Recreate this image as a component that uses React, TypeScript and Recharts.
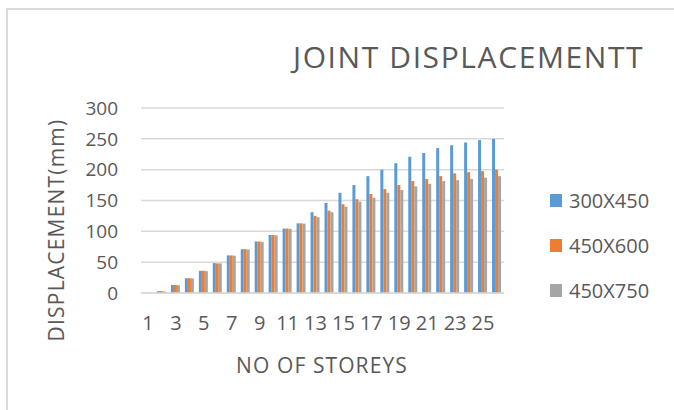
import { BarChart, Bar, XAxis, YAxis, CartesianGrid } from 'recharts';

const storeys = [
  '1', '2', '3', '4', '5', '6', '7', '8', '9', '10', '11', '12', '13',
  '14', '15', '16', '17', '18', '19', '20', '21', '22', '23', '24', '25', '26',
];

const s300x450 = [
  0, 3, 13, 24, 36, 48.5, 61, 71, 83.5, 94, 104.5, 113, 131,
  146, 162.6, 175, 189.5, 200, 210.5, 221, 227, 235, 239.6, 244, 248, 250,
];
const s450x600 = [
  0, 3, 13, 24, 36, 48, 61, 71, 83.5, 94, 104.5, 113, 125,
  133.5, 144, 152, 160.5, 168.5, 175, 181.5, 185, 189.5, 194, 196, 197.6, 200,
];
const s450x750 = [
  0, 2.5, 12.5, 23.5, 35.5, 48, 60.5, 70.5, 83, 93.5, 104, 112.5, 123,
  131, 140, 148, 154.5, 162.6, 167, 173, 177, 181.5, 183, 185, 187, 189.5,
];

const yTicks = [0, 50, 100, 150, 200, 250, 300];

const SERIES = [
  { key: '300X450', color: '#5B9BD5', values: s300x450 },
  { key: '450X600', color: '#ED7D31', values: s450x600 },
  { key: '450X750', color: '#A5A5A5', values: s450x750 },
];

const data = storeys.map((name, i) => {
  const row: Record<string, string | number> = { name };
  SERIES.forEach((s) => {
    row[s.key] = s.values[i];
  });
  return row;
});

const FONT = '"Open Sans", sans-serif';
const TEXT = '#595959';

export default function App() {
  return (
    <div
      style={{
        position: 'fixed',
        left: 0,
        top: 0,
        width: 674,
        height: 410,
        overflow: 'hidden',
        background: '#fff',
        fontFamily: FONT,
      }}
    >
      <BarChart
        width={674}
        height={410}
        data={data}
        margin={{ top: 108, right: 170, bottom: 0, left: 0 }}
        barGap={0}
        barSize={3}
      >
        <CartesianGrid vertical={false} stroke="#D9D9D9" strokeWidth={1.5} />
        <XAxis
          dataKey="name"
          interval={1}
          height={117}
          axisLine={{ stroke: '#D9D9D9', strokeWidth: 1.5 }}
          tickLine={false}
          tickSize={0}
          tickMargin={23}
          tick={{ fill: TEXT, fontSize: 20, fontFamily: FONT }}
        />
        <YAxis
          domain={[0, 300]}
          ticks={yTicks}
          width={141}
          axisLine={false}
          tickLine={false}
          tickSize={0}
          tickMargin={23}
          tick={{ fill: TEXT, fontSize: 19, fontFamily: FONT }}
        />
        {SERIES.map((s) => (
          <Bar key={s.key} dataKey={s.key} fill={s.color} isAnimationActive={false} />
        ))}
      </BarChart>
      <svg
        width={674}
        height={410}
        style={{ position: 'absolute', left: 0, top: 0, pointerEvents: 'none' }}
      >
        {/* chart area frame, only top and left edges fall inside the crop */}
        <rect x={7} y={9} width={700} height={450} fill="none" stroke="#D9D9D9" strokeWidth={2} />
        <text x={293} y={68} fontSize={30} fill={TEXT} fontFamily={FONT} letterSpacing={1.6}>
          JOINT DISPLACEMENTT
        </text>
        <text
          x={64}
          y={230}
          fontSize={21}
          fill={TEXT}
          fontFamily={FONT}
          letterSpacing={1.2}
          textAnchor="middle"
          transform="rotate(-90 64 230)"
        >
          DISPLACEMENT(mm)
        </text>
        <text
          x={322}
          y={373}
          fontSize={21}
          fill={TEXT}
          fontFamily={FONT}
          letterSpacing={1.1}
          textAnchor="middle"
        >
          NO OF STOREYS
        </text>
        {SERIES.map((s, i) => (
          <g key={s.key}>
            <rect x={550} y={194 + i * 45} width={12} height={13} fill={s.color} />
            <text x={569} y={208 + i * 45} fontSize={20} fill={TEXT} fontFamily={FONT}>
              {s.key}
            </text>
          </g>
        ))}
      </svg>
    </div>
  );
}
